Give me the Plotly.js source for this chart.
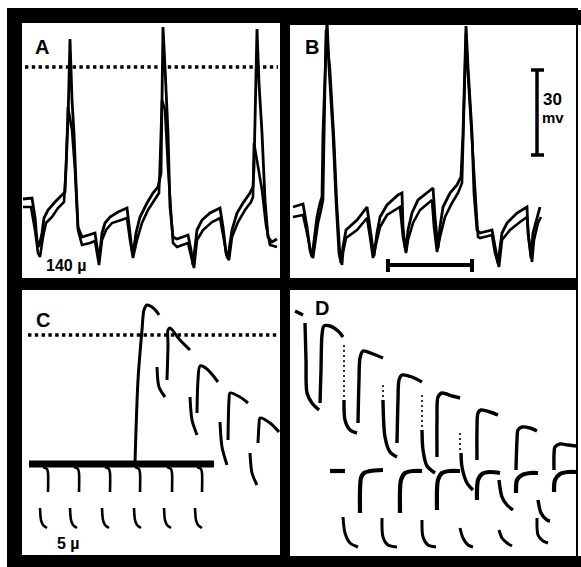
<!DOCTYPE html>
<html>
<head>
<meta charset="utf-8">
<script src="https://cdn.plot.ly/plotly-3.0.1.min.js"></script>
<style>html,body{margin:0;padding:0;background:#fff;}#chart{width:581px;height:567px;}</style>
</head>
<body>
<div id="chart"></div>
<script>
// ---------- DATA (panel-local sweep units) ----------
// Panel A: two superimposed sweeps (140 µ)
var A_up_t = [23,32,35,37,39,42,44,48,55,62,65,68,70,72,74,76,78,82,90,95,97,99,102,105,110,118,127,129,132,133,136,140,147,153,158,161,163,165,168,170,173,177,182,188,191,193,197,202,210,220,223,226,228,232,237,243,250,253,254,257,259,262,265,268,272,277];
var A_up_v = [199,198,217,240,247,233,218,210,202,195,192,120,39,100,133,183,227,237,235,233,247,260,233,223,217,212,208,227,250,255,233,217,203,193,187,173,27,67,133,207,237,239,237,235,250,265,230,220,213,208,227,253,257,230,213,203,193,187,167,29,83,133,200,237,242,239];
var A_lo_t = [23,31,35,38,40,43,46,52,58,64,66,68,72,75,78,82,90,95,97,99,102,106,112,120,127,130,133,137,142,148,155,159,162,165,168,171,173,177,182,188,192,194,197,203,212,220,224,227,229,232,238,245,251,253,254,257,262,266,270,277];
var A_lo_v = [207,207,230,253,257,237,223,217,208,202,167,107,130,170,230,245,243,241,253,265,240,230,223,220,218,240,258,240,223,210,200,193,100,110,167,217,243,247,245,243,260,268,240,230,222,218,240,257,260,237,222,210,202,197,143,160,190,225,245,247];
var A_zero_t = [25,278];
var A_zero_v = [67,67];

// Panel B: two superimposed sweeps
var B_up_t = [293,303,307,310,312,315,317,320,322,323,326,327,329,333,336,339,341,343,346,357,367,370,373,374,377,380,387,398,402,403,405,406,408,412,418,430,433,435,437,438,440,443,450,457,461,463,466,468,472,474,477,480,492,495,498,502,507,517,527,528,531,533,537,540];
var B_up_v = [207,204,227,250,257,233,217,203,197,133,25,20,67,133,200,253,263,247,230,220,207,227,250,256,233,217,205,195,193,227,247,251,230,213,200,190,188,217,243,248,227,207,193,185,177,133,26,67,133,193,230,233,230,247,263,233,223,213,207,233,258,233,217,207];
var B_lo_t = [293,303,307,311,313,316,318,321,323,326,330,334,337,340,342,343,346,357,367,370,373,377,380,387,400,403,406,408,413,420,432,434,437,440,445,452,458,462,464,466,468,472,475,478,480,492,495,499,502,510,520,527,529,532,534,538,541];
var B_lo_v = [217,215,233,253,258,237,223,210,200,30,70,140,207,255,265,253,238,230,218,237,258,240,227,215,207,237,253,240,223,210,200,227,252,237,217,203,193,183,100,33,75,140,200,237,238,235,253,267,240,230,222,217,240,262,240,223,217];
// calibration bars: 30 mV (vertical) and time (horizontal)
var B_mv_t = [537,537,null,531,544,null,531,544];
var B_mv_v = [70,155,null,70,70,null,155,155];
var B_time_t = [387,473,null,388,388,null,472,472];
var B_time_v = [265,265,null,259,272,null,259,272];

// Panel C (5 µ)
var C_base_t = [29,214];
var C_base_v = [464,464];
var C_tick_t = [43,47,48,48,null,74,78,79,79,null,105,109,110,110,null,135,139,140,140,null,167,171,172,172,null,197,201,202,202];
var C_tick_v = [467,469,473,492,null,467,469,473,492,null,467,469,473,492,null,467,469,473,492,null,467,469,473,492,null,467,469,473,492];
var C_hook_t = [40,41,43,47,null,70,71,73,77,null,102,103,105,109,null,134,135,137,141,null,164,165,167,171,null,195,196,198,202];
var C_hook_v = [508,520,525,528,null,508,520,525,528,null,508,520,525,528,null,508,520,525,528,null,508,520,525,528,null,508,520,525,528];
var C_resp_t = [135,138,142,144,147,152,157,159,null,157,159,165,null,167,168,168,170,180,190,null,190,192,197,null,197,198,200,207,218,null,220,222,227,null,228,229,230,240,248,null,250,252,257,null,258,259,260,270,279];
var C_resp_v = [463,380,330,310,305,307,312,315,null,367,387,397,null,380,345,330,328,340,350,null,397,420,435,null,413,380,366,369,382,null,422,447,465,null,440,400,393,397,403,null,453,473,485,null,443,425,418,423,432];
var C_zero_t = [28,279];
var C_zero_v = [335,335];

// Panel D
var D_up_t = [295,303,null,305,306,307,312,319,null,320,321,322,324,330,338,343,null,344,345,350,357,null,358,359,360,363,373,383,null,383,385,390,397,null,397,398,399,402,412,422,null,422,423,427,435,null,437,437,438,442,452,460,null,461,462,467,473,null,477,477,478,481,490,498,null,499,502,507,513,null,516,517,518,522,530,537,null,538,541,547,550,null,554,554,555,560,568,576];
var D_up_v = [311,315,null,323,360,393,403,410,null,403,370,335,326,326,331,337,null,400,420,430,433,null,423,380,358,351,354,358,null,400,437,452,457,null,443,400,380,375,377,382,null,430,450,466,473,null,457,420,397,393,396,398,null,453,467,483,490,null,460,430,413,410,412,415,null,480,497,505,510,null,470,440,430,427,428,431,null,500,513,520,521,null,470,455,447,444,445,446];
var D_dot_t = [344,344,null,383,383,null,397,397,null,422,422,null,437,437,null,460,460];
var D_dot_v = [345,398,null,385,418,null,420,442,null,395,428,null,447,456,null,433,452];
var D_lo_t = [330,345,null,360,360,361,364,370,383,null,400,400,401,405,413,422,null,437,437,438,442,450,460,null,477,477,478,482,490,500,null,516,517,522,530,538,null,554,555,560,568,576];
var D_lo_v = [471,471,null,513,490,478,473,471,470,null,513,490,480,473,471,471,null,510,490,480,473,471,471,null,500,490,480,474,472,473,null,493,480,475,473,473,null,492,480,474,472,472];
var D_hook_t = [343,345,350,358,null,382,383,388,397,null,422,423,428,436,null,460,463,468,473,null,499,502,507,512,null,537,538,543,548];
var D_hook_v = [517,533,543,547,null,518,537,545,547,null,520,537,545,547,null,528,538,545,547,null,530,538,543,546,null,518,535,541,543];

// Labels
var panelLabels = ['A','B','C','D'];
var sizeLabels = ['140 µ','5 µ'];
var calLabels = ['30','mv'];

// ---------- FIGURE ----------
var W = 581, H = 567;
function px(x){return x/W;}
function py(y){return 1 - y/H;}

var panels = {
  A:{x:[22,280], y:[23,278], xa:'x',  ya:'y'},
  B:{x:[290,576],y:[25,278], xa:'x2', ya:'y2'},
  C:{x:[22,280], y:[290,555],xa:'x3', ya:'y3'},
  D:{x:[290,576],y:[290,556],xa:'x4', ya:'y4'}
};

function tr(t,v,p,w,extra){
  var o = {x:t, y:v, xaxis:panels[p].xa, yaxis:panels[p].ya, mode:'lines',
    line:{color:'#000', width:w}, connectgaps:false, hoverinfo:'skip', showlegend:false};
  if (extra) for (var k in extra) o[k]=extra[k];
  return o;
}
function sp(w){ return {line:{color:'#000', width:w, shape:'spline', smoothing:0.8}}; }
var dotLine = {color:'#000', width:3.4, dash:'3.4px,3.4px'};

var data = [
  tr(A_up_t,A_up_v,'A',2.8), tr(A_lo_t,A_lo_v,'A',2.6),
  tr(A_zero_t,A_zero_v,'A',3.4,{line:dotLine}),
  tr(B_up_t,B_up_v,'B',2.8), tr(B_lo_t,B_lo_v,'B',2.6),
  tr(B_mv_t,B_mv_v,'B',3.5), tr(B_time_t,B_time_v,'B',4),
  tr(C_base_t,C_base_v,'C',7), tr(C_tick_t,C_tick_v,'C',2.6,sp(2.6)),
  tr(C_hook_t,C_hook_v,'C',2.6,sp(2.6)), tr(C_resp_t,C_resp_v,'C',3,sp(3)),
  tr(C_zero_t,C_zero_v,'C',3.4,{line:dotLine}),
  tr(D_up_t,D_up_v,'D',3.4,sp(3.4)), tr(D_lo_t,D_lo_v,'D',4.2,sp(4.2)), tr(D_hook_t,D_hook_v,'D',3,sp(3)),
  tr(D_dot_t,D_dot_v,'D',1.6,{line:{color:'#000',width:1.6,dash:'2px,3px'}})
];

var layout = {
  width:W, height:H, margin:{l:0,r:0,t:0,b:0,pad:0},
  paper_bgcolor:'#fff', plot_bgcolor:'rgba(0,0,0,0)', showlegend:false,
  font:{family:'Liberation Sans, Arial, sans-serif', color:'#000'},
  shapes:[], annotations:[]
};
var idx = {A:'',B:'2',C:'3',D:'4'};
for (var k in panels){
  var p = panels[k];
  layout['xaxis'+idx[k]] = {domain:[px(p.x[0]),px(p.x[1])], range:p.x, visible:false, fixedrange:true, anchor:'y'+idx[k]};
  layout['yaxis'+idx[k]] = {domain:[py(p.y[1]),py(p.y[0])], range:[p.y[1],p.y[0]], visible:false, fixedrange:true, anchor:'x'+idx[k]};
}
function rect(x0,y0,x1,y1,c){
  layout.shapes.push({type:'rect', xref:'paper', yref:'paper', x0:px(x0), x1:px(x1), y0:py(y1), y1:py(y0),
    fillcolor:c, line:{width:0}, layer:'below'});
}
rect(7,8,578,567,'#000');
rect(570,10,581,25,'#000');
rect(570,556,581,567,'#000');
for (var k in panels){ var p=panels[k]; rect(p.x[0],p.y[0],p.x[1],p.y[1],'#fff'); }

function ann(text,p,x,y,size){
  layout.annotations.push({text:'<b>'+text+'</b>', xref:panels[p].xa, yref:panels[p].ya, x:x, y:y,
    showarrow:false, xanchor:'center', yanchor:'middle', font:{size:size, color:'#000', family:'Liberation Sans, Arial, sans-serif'}});
}
ann(panelLabels[0],'A',42,47,20);
ann(panelLabels[1],'B',312,47,20);
ann(panelLabels[2],'C',43,320,20);
ann(panelLabels[3],'D',322,308,20);
ann(sizeLabels[0],'A',66,265,16);
ann(sizeLabels[1],'C',68,543,16);
ann(calLabels[0],'B',552,100,17);
ann(calLabels[1],'B',553,118,15);

Plotly.newPlot('chart', data, layout, {staticPlot:true, displayModeBar:false});
</script>
</body>
</html>
